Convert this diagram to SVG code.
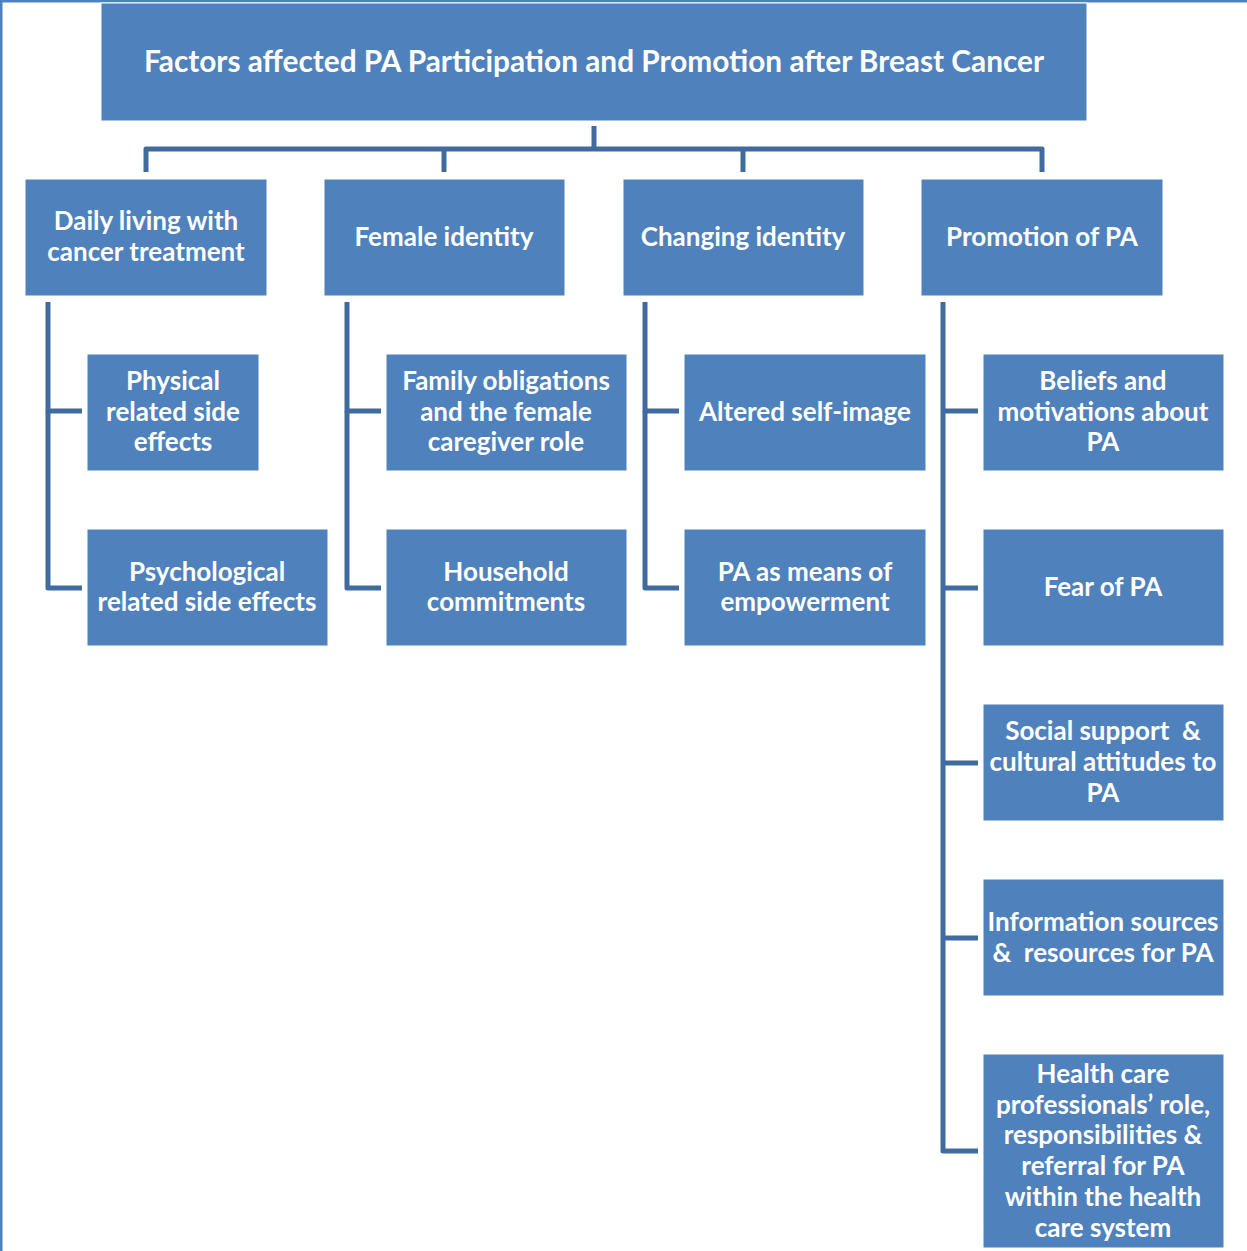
<svg xmlns="http://www.w3.org/2000/svg" width="1247" height="1251" viewBox="0 0 1247 1251">
  <style>
    .box { fill: #4F81BD; stroke: #ffffff; stroke-width: 1; }
    .lbl { fill: #ffffff; font-family: Lato, "Open Sans", "Liberation Sans", sans-serif; font-weight: 700; font-size: 26px; text-anchor: middle; }
    .title { font-size: 29.8px; }
    .conn { fill: none; stroke: #416B9E; stroke-width: 5; stroke-linejoin: round; }
  </style>
  <rect x="0" y="0" width="1247" height="1251" fill="#ffffff"/>
  <!-- frame edges -->
  <path d="M1,1251 V1 H1247" fill="none" stroke="#4F81BD" stroke-width="3"/>

  <g id="connectors">
    <path class="conn" d="M594,126 V148"/>
    <path class="conn" d="M146,172 V149 H1042 V172"/>
    <path class="conn" d="M444,149 V172"/>
    <path class="conn" d="M743,149 V172"/>
    <path class="conn" d="M82,411 H48 V302"/>
    <path class="conn" d="M48,411 V588 H82"/>
    <path class="conn" d="M381,411 H347 V302"/>
    <path class="conn" d="M347,411 V588 H381"/>
    <path class="conn" d="M679,411 H645 V302"/>
    <path class="conn" d="M645,411 V588 H679"/>
    <path class="conn" d="M943,302 V1151 H978"/>
    <path class="conn" d="M943,411 H978"/>
    <path class="conn" d="M943,588 H978"/>
    <path class="conn" d="M943,763 H978"/>
    <path class="conn" d="M943,938 H978"/>
  </g>

  <g id="root">
    <rect class="box" x="101" y="3" width="986" height="118"/>
    <text class="lbl title" x="594" y="72">Factors affected PA Participation and Promotion after Breast Cancer</text>
  </g>

  <g id="daily-living">
    <rect class="box" x="25" y="179" width="242" height="117"/>
    <text class="lbl" x="146" y="230">Daily living with</text>
    <text class="lbl" x="146" y="261">cancer treatment</text>
  </g>
  <g id="female-identity">
    <rect class="box" x="324" y="179" width="241" height="117"/>
    <text class="lbl" x="444" y="246">Female identity</text>
  </g>
  <g id="changing-identity">
    <rect class="box" x="623" y="179" width="241" height="117"/>
    <text class="lbl" x="743" y="246">Changing identity</text>
  </g>
  <g id="promotion">
    <rect class="box" x="921" y="179" width="242" height="117"/>
    <text class="lbl" x="1042" y="246">Promotion of PA</text>
  </g>

  <g id="physical">
    <rect class="box" x="87" y="354" width="172" height="117"/>
    <text class="lbl" x="173" y="390">Physical</text>
    <text class="lbl" x="173" y="421">related side</text>
    <text class="lbl" x="173" y="451">effects</text>
  </g>
  <g id="psychological">
    <rect class="box" x="87" y="529" width="241" height="117"/>
    <text class="lbl" x="207" y="581">Psychological</text>
    <text class="lbl" x="207" y="611">related side effects</text>
  </g>

  <g id="family">
    <rect class="box" x="386" y="354" width="241" height="117"/>
    <text class="lbl" x="506" y="390">Family obligations</text>
    <text class="lbl" x="506" y="421">and the female</text>
    <text class="lbl" x="506" y="451">caregiver role</text>
  </g>
  <g id="household">
    <rect class="box" x="386" y="529" width="241" height="117"/>
    <text class="lbl" x="506" y="581">Household</text>
    <text class="lbl" x="506" y="611">commitments</text>
  </g>

  <g id="self-image">
    <rect class="box" x="684" y="354" width="242" height="117"/>
    <text class="lbl" x="805" y="421">Altered self-image</text>
  </g>
  <g id="empowerment">
    <rect class="box" x="684" y="529" width="242" height="117"/>
    <text class="lbl" x="805" y="581">PA as means of</text>
    <text class="lbl" x="805" y="611">empowerment</text>
  </g>

  <g id="beliefs">
    <rect class="box" x="983" y="354" width="241" height="117"/>
    <text class="lbl" x="1103" y="390">Beliefs and</text>
    <text class="lbl" x="1103" y="421">motivations about</text>
    <text class="lbl" x="1103" y="451">PA</text>
  </g>
  <g id="fear">
    <rect class="box" x="983" y="529" width="241" height="117"/>
    <text class="lbl" x="1103" y="596">Fear of PA</text>
  </g>
  <g id="social">
    <rect class="box" x="983" y="704" width="241" height="117"/>
    <text class="lbl" x="1103" y="740" xml:space="preserve">Social support  &amp;</text>
    <text class="lbl" x="1103" y="771">cultural attitudes to</text>
    <text class="lbl" x="1103" y="802">PA</text>
  </g>
  <g id="information">
    <rect class="box" x="983" y="879" width="241" height="117"/>
    <text class="lbl" x="1103" y="931">Information sources</text>
    <text class="lbl" x="1103" y="962" xml:space="preserve">&amp;  resources for PA</text>
  </g>
  <g id="health-care">
    <rect class="box" x="983" y="1054" width="241" height="194"/>
    <text class="lbl" x="1103" y="1083">Health care</text>
    <text class="lbl" x="1103" y="1114">professionals’ role,</text>
    <text class="lbl" x="1103" y="1144">responsibilities &amp;</text>
    <text class="lbl" x="1103" y="1175">referral for PA</text>
    <text class="lbl" x="1103" y="1206">within the health</text>
    <text class="lbl" x="1103" y="1237">care system</text>
  </g>
</svg>
